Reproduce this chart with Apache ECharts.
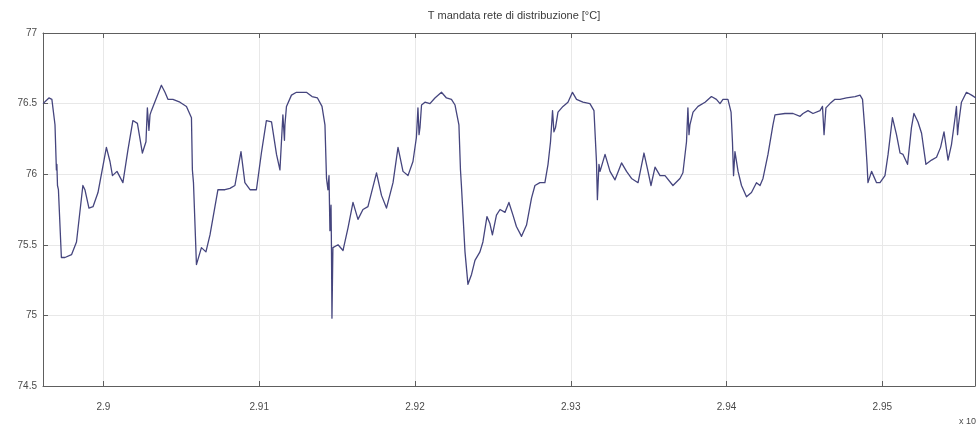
<!DOCTYPE html>
<html>
<head>
<meta charset="utf-8">
<script src="https://cdn.jsdelivr.net/npm/echarts@6/dist/echarts.min.js"></script>
<style>html,body{margin:0;padding:0;background:#fff}#c{width:976px;height:432px}</style>
</head>
<body>
<div id="c"></div>
<script>
const titleText = 'T mandata rete di distribuzione [°C]';
const xTicks = [2.9, 2.91, 2.92, 2.93, 2.94, 2.95];
const yTicks = [74.5, 75, 75.5, 76, 76.5, 77];
const xMin = 2.89612, xMax = 2.95595;
const exponentLabel = 'x 10';

const xVals = [
2.89612,2.89650,2.89669,2.89689,2.89698,2.89701,2.89705,2.89711,2.89730,2.89753,
2.89795,2.89827,2.89868,2.89881,2.89907,2.89933,2.89965,2.90019,2.90042,2.90058,
2.90087,2.90125,2.90157,2.90189,2.90218,2.90250,2.90273,2.90282,2.90292,2.90299,
2.90308,2.90340,2.90372,2.90395,2.90414,2.90446,2.90491,2.90533,2.90565,2.90571,
2.90578,2.90597,2.90629,2.90658,2.90684,2.90735,2.90780,2.90812,2.90844,2.90883,
2.90908,2.90941,2.90982,2.91014,2.91046,2.91079,2.91111,2.91133,2.91152,2.91162,
2.91165,2.91175,2.91207,2.91239,2.91303,2.91339,2.91374,2.91403,2.91422,2.91432,
2.91441,2.91448,2.91454,2.91461,2.91464,2.91467,2.91473,2.91506,2.91538,2.91570,
2.91602,2.91634,2.91666,2.91698,2.91753,2.91785,2.91817,2.91859,2.91891,2.91923,
2.91955,2.91987,2.92009,2.92019,2.92026,2.92032,2.92042,2.92064,2.92096,2.92128,
2.92170,2.92202,2.92234,2.92257,2.92282,2.92292,2.92298,2.92321,2.92340,2.92363,
2.92385,2.92417,2.92436,2.92462,2.92481,2.92497,2.92523,2.92546,2.92578,2.92603,
2.92629,2.92651,2.92684,2.92716,2.92748,2.92770,2.92802,2.92834,2.92854,2.92870,
2.92883,2.92892,2.92902,2.92918,2.92950,2.92982,2.93011,2.93037,2.93078,2.93123,
2.93149,2.93165,2.93171,2.93181,2.93188,2.93220,2.93252,2.93284,2.93326,2.93358,
2.93390,2.93432,2.93470,2.93492,2.93515,2.93541,2.93573,2.93605,2.93656,2.93701,
2.93720,2.93743,2.93752,2.93759,2.93765,2.93785,2.93817,2.93862,2.93903,2.93935,
2.93958,2.93977,2.94009,2.94029,2.94038,2.94045,2.94054,2.94074,2.94096,2.94128,
2.94160,2.94192,2.94215,2.94234,2.94266,2.94298,2.94311,2.94375,2.94427,2.94472,
2.94491,2.94523,2.94555,2.94600,2.94616,2.94626,2.94638,2.94664,2.94696,2.94728,
2.94770,2.94825,2.94857,2.94873,2.94889,2.94902,2.94908,2.94931,2.94963,2.94985,
2.95017,2.95037,2.95065,2.95091,2.95114,2.95133,2.95162,2.95187,2.95203,2.95229,
2.95252,2.95280,2.95316,2.95348,2.95374,2.95396,2.95422,2.95444,2.95467,2.95476,
2.95483,2.95489,2.95508,2.95540,2.95573,2.95601
];
const tempVals = [
76.50,76.54,76.53,76.35,76.03,76.07,75.92,75.89,75.41,75.41,
75.43,75.52,75.92,75.89,75.76,75.77,75.87,76.19,76.09,75.99,
76.02,75.94,76.17,76.38,76.36,76.15,76.23,76.47,76.31,76.42,
76.45,76.54,76.63,76.58,76.53,76.53,76.51,76.48,76.40,76.03,
75.94,75.36,75.48,75.45,75.57,75.89,75.89,75.90,75.92,76.16,
75.94,75.89,75.89,76.15,76.38,76.37,76.14,76.03,76.42,76.24,
76.35,76.48,76.56,76.58,76.58,76.55,76.54,76.48,76.35,75.97,
75.89,75.99,75.60,75.78,75.45,74.98,75.48,75.50,75.46,75.62,
75.80,75.68,75.75,75.77,76.01,75.85,75.76,75.94,76.19,76.02,
75.99,76.09,76.26,76.47,76.28,76.33,76.49,76.51,76.50,76.54,
76.58,76.54,76.53,76.49,76.35,76.03,75.92,75.45,75.22,75.29,
75.39,75.45,75.52,75.70,75.65,75.57,75.71,75.75,75.73,75.80,
75.71,75.63,75.56,75.64,75.83,75.92,75.94,75.94,76.07,76.23,
76.45,76.30,76.33,76.44,76.48,76.51,76.58,76.53,76.51,76.50,
76.45,76.09,75.82,76.07,76.02,76.14,76.02,75.96,76.08,76.02,
75.97,75.94,76.15,76.04,75.92,76.05,75.99,75.99,75.92,75.97,
76.01,76.23,76.47,76.28,76.35,76.44,76.48,76.51,76.55,76.53,
76.50,76.53,76.53,76.44,76.23,75.99,76.16,76.02,75.92,75.84,
75.87,75.94,75.92,75.97,76.14,76.35,76.42,76.43,76.43,76.41,
76.43,76.45,76.43,76.45,76.48,76.28,76.47,76.50,76.53,76.53,
76.54,76.55,76.56,76.53,76.30,76.07,75.94,76.02,75.94,75.94,
75.99,76.14,76.40,76.28,76.15,76.14,76.07,76.33,76.43,76.37,
76.29,76.07,76.10,76.12,76.19,76.30,76.10,76.21,76.40,76.48,
76.28,76.35,76.51,76.58,76.56,76.54
];

const seriesData = xVals.map((x, i) => [x, tempVals[i]]);
const axisColor = '#5e5e5e';
const labelStyle = { color: '#4a4a4a', fontSize: 10, fontFamily: 'Liberation Sans, Arial, sans-serif' };

const chart = echarts.init(document.getElementById('c'), null, { renderer: 'canvas' });
chart.setOption({
  animation: false,
  backgroundColor: '#ffffff',
  title: {
    text: titleText,
    left: 509, top: 5, textAlign: 'center',
    textStyle: { fontSize: 11, fontWeight: 'normal', color: '#3a3a3a', fontFamily: 'Liberation Sans, Arial, sans-serif' }
  },
  grid: { left: 43, right: 1, top: 33, bottom: 46, containLabel: false },
  xAxis: [{
    type: 'value', min: xMin, max: xMax, position: 'bottom',
    axisLine: { show: true, lineStyle: { color: axisColor, width: 1 } },
    axisTick: { show: true, inside: true, length: 5, customValues: xTicks, lineStyle: { color: axisColor } },
    axisLabel: { show: true, customValues: xTicks, margin: 16, formatter: v => String(+v.toFixed(2)), ...labelStyle },
    splitLine: { show: true, lineStyle: { color: '#e8e8e8', width: 1 } }
  }, {
    type: 'value', min: xMin, max: xMax, position: 'top',
    axisLine: { show: true, lineStyle: { color: axisColor, width: 1 } },
    axisTick: { show: true, inside: true, length: 5, customValues: xTicks, lineStyle: { color: axisColor } },
    axisLabel: { show: false },
    splitLine: { show: false }
  }],
  yAxis: [{
    type: 'value', min: 74.5, max: 77, interval: 0.5, position: 'left',
    axisLine: { show: true, lineStyle: { color: axisColor, width: 1 } },
    axisTick: { show: true, inside: true, length: 5, lineStyle: { color: axisColor } },
    axisLabel: { show: true, margin: 6, formatter: v => String(v), ...labelStyle },
    splitLine: { show: true, lineStyle: { color: '#e8e8e8', width: 1 } }
  }, {
    type: 'value', min: 74.5, max: 77, interval: 0.5, position: 'right',
    axisLine: { show: true, lineStyle: { color: axisColor, width: 1 } },
    axisTick: { show: true, inside: true, length: 5, lineStyle: { color: axisColor } },
    axisLabel: { show: false },
    splitLine: { show: false }
  }],
  graphic: [{
    type: 'text', right: 0, top: 417,
    style: { text: exponentLabel, fill: '#4a4a4a', fontSize: 9, fontFamily: 'Liberation Sans, Arial, sans-serif' }
  }],
  series: [{
    type: 'line', xAxisIndex: 0, yAxisIndex: 0,
    data: seriesData, showSymbol: false, symbol: 'none',
    lineStyle: { color: '#45457e', width: 1.3, join: 'round' },
    z: 3
  }]
});
</script>
</body>
</html>
